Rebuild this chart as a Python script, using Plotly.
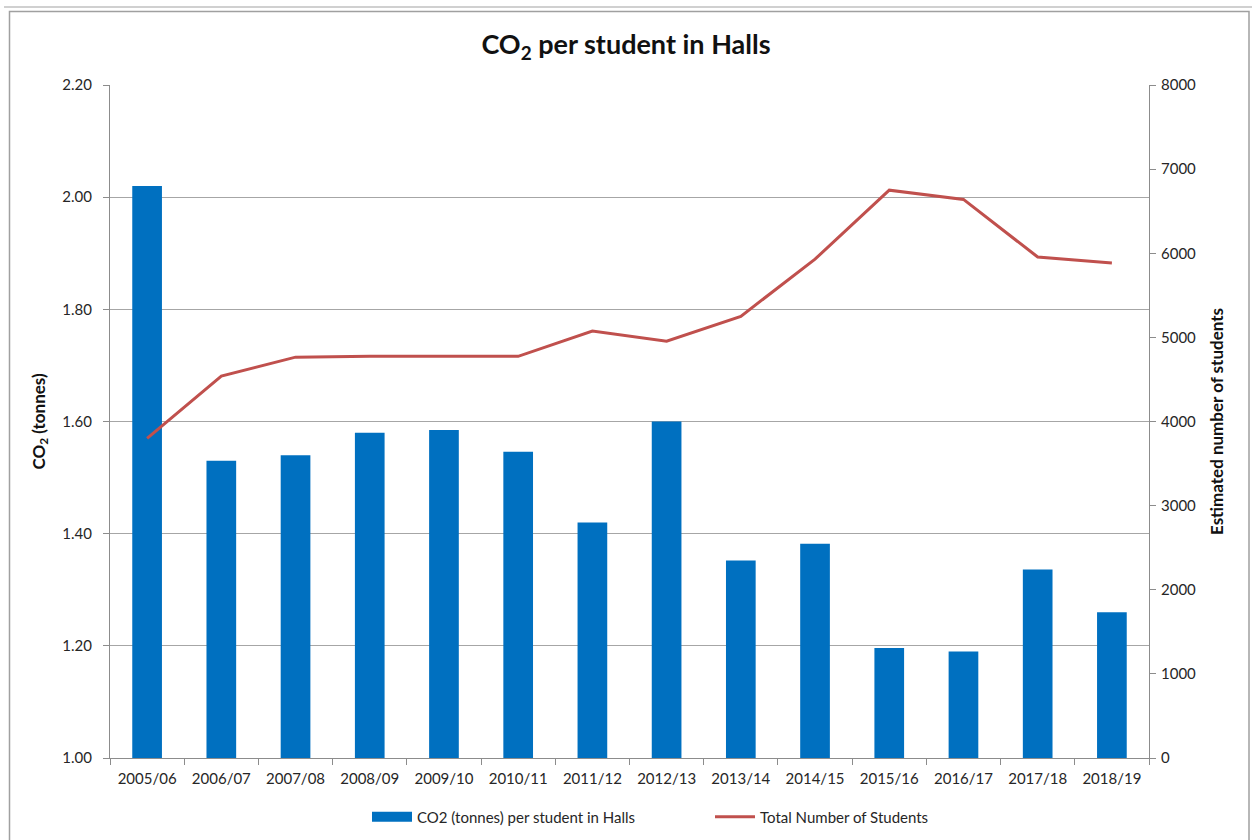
import plotly.graph_objects as go

years = ["2005/06", "2006/07", "2007/08", "2008/09", "2009/10", "2010/11", "2011/12",
         "2012/13", "2013/14", "2014/15", "2015/16", "2016/17", "2017/18", "2018/19"]
co2_per_student = [2.02, 1.53, 1.54, 1.58, 1.585, 1.546, 1.42, 1.60, 1.352, 1.382,
                   1.196, 1.19, 1.336, 1.26]
total_students = [3800, 4540, 4765, 4775, 4775, 4775, 5075, 4955, 5250, 5930,
                  6750, 6640, 5955, 5885]

FONT = "Lato"
W, H = 1252, 840
L, R, T, B = 110, 103, 85, 82
pw, ph = W - L - R, H - T - B

def px(x):
    return (x - L) / pw

def py(y):
    return (H - B - y) / ph

BAR_NAME = "CO2 (tonnes) per student in Halls"

fig = go.Figure()
fig.add_trace(go.Bar(
    x=years, y=co2_per_student, name=BAR_NAME, showlegend=False,
    marker=dict(color="#0070C0", line=dict(width=0)), yaxis="y",
))
# legend entry with a wide rectangle swatch like the reference
fig.add_trace(go.Scatter(
    x=[None], y=[None], name=BAR_NAME, mode="lines",
    line=dict(color="#0070C0", width=10), yaxis="y",
))
fig.add_trace(go.Scatter(
    x=years, y=total_students, name="Total Number of Students",
    mode="lines", line=dict(color="#C0504D", width=3), yaxis="y2",
))

axis_font = dict(size=15, color="#262626")

fig.update_layout(
    width=W, height=H,
    margin=dict(l=L, r=R, t=T, b=B, autoexpand=False),
    paper_bgcolor="white", plot_bgcolor="white",
    font=dict(family=FONT, size=15, color="#262626"),
    title=dict(text="<b>CO<sub>2</sub> per student in Halls</b>", x=0.5, xanchor="center",
               y=1 - 45 / H, yanchor="middle", font=dict(size=27, color="#111")),
    bargap=0.6,
    showlegend=True,
    legend=dict(orientation="h", x=px(367), xanchor="left", y=py(817), yanchor="middle",
                font=dict(size=15), traceorder="normal", itemwidth=40,
                entrywidth=288, entrywidthmode="pixels"),
    xaxis=dict(type="category", showline=True, linecolor="#8c8c8c", linewidth=1,
               ticks="outside", tickson="boundaries", ticklen=6, tickcolor="#8c8c8c",
               showgrid=False, mirror=False, tickfont=axis_font, ticklabelstandoff=7),
    yaxis=dict(range=[1.0, 2.2], dtick=0.2, tickformat=".2f", showline=True,
               linecolor="#8c8c8c", ticks="outside", ticklen=6, tickcolor="#8c8c8c",
               gridcolor="#a6a6a6", gridwidth=1, zeroline=False, tickfont=axis_font,
               ticklabelstandoff=8,
               title=dict(text="<b>CO<sub>2</sub> (tonnes)</b>", font=dict(size=17, color="#111"),
                          standoff=12)),
    yaxis2=dict(range=[0, 8000], dtick=1000, overlaying="y", side="right", showline=True,
                linecolor="#8c8c8c", ticks="outside", ticklen=6, tickcolor="#8c8c8c",
                showgrid=False, zeroline=False, tickfont=axis_font, ticklabelstandoff=2,
                title=dict(text="<b>Estimated number of students</b>",
                           font=dict(size=17, color="#111"), standoff=16)),
    shapes=[
        dict(type="rect", xref="paper", yref="paper", x0=px(9.5), x1=px(1249), y0=py(11.5), y1=py(845),
             line=dict(color="#a0a0a0", width=1.5), fillcolor="rgba(0,0,0,0)", layer="below"),
        dict(type="line", xref="paper", yref="paper", x0=px(4), x1=px(1252), y0=py(7), y1=py(7),
             line=dict(color="#d0d0d0", width=2)),
    ],
)

fig.write_html("out.html")
